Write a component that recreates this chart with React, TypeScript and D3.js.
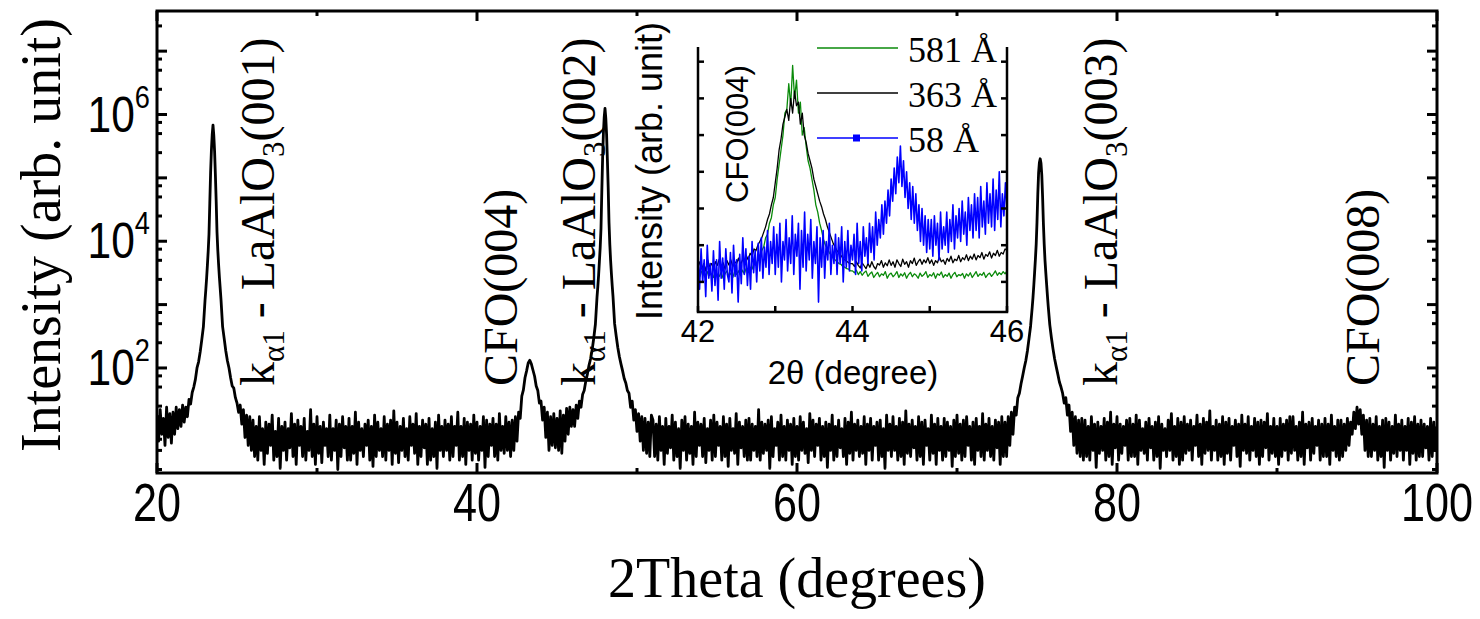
import React from 'react';
import * as d3 from 'd3';

const W = 1480;
const H = 619;

// ---- main XRD scan: 2θ from 20° to 100° in 0.1° steps (counts) ----
const scanStart = 20;
const scanStep = 0.1;
const scanCounts: number[] = [
  18,7,22,9,16,6,24,8,19,6.5, // 20
  20,9,24,11,22,12,26,14,24,17, // 21
  32,27,41,50,66,100,125,180,280,450, // 22
  1150,2600,7000,40000,270000,680000,260000,42000,7200,2700, // 23
  1200,450,290,185,130,100,70,52,48,34, // 24
  28,20,26,13,22,8,18,6,17,5, // 25
  15,4,12,3.5,17,5,11,3,14,4.5, // 26
  13,6,18,3.5,10,4,16,2.6,12,5, // 27
  14,3.5,11,5.5,19,4,13,3,15,6, // 28
  12,4,16,3.5,10,5,22,4,13,3, // 29
  17,4.5,12,3.2,14,6,11,4,18,3.5, // 30
  11,5,15,2.5,13,4,17,5.5,12,3.5, // 31
  16,3.5,12,4.5,20,3,14,5,11,4, // 32
  13,6,15,3.5,12,2.8,18,4,14,5, // 33
  11,4,17,3.5,13,5,15,3,21,4.5, // 34
  14,3.2,12,5,16,4,11,3.5,17,6, // 35
  13,4.5,19,3,12,4,15,5.5,13,3, // 36
  16,3.5,11,4,14,2.6,18,5,12,4, // 37
  15,5,13,3.5,17,4,12,6,20,3.5, // 38
  12,4,16,3,14,5,13,3.5,18,4.5, // 39
  14,3.5,12,5,17,2.7,15,4,13,6, // 40
  16,4,13,3.5,19,5,12,4.5,17,5, // 41
  14,4,15,5,17,7,20,16,36,45, // 42
  70,90,120,132,115,92,74,52,44,28, // 43
  30,15,24,8,20,5,17,6,19,5.5, // 44
  16,5,21,4.5,18,7,23,9,24,12, // 45
  22,12,26,16,30,24,38,44,62,80, // 46
  110,140,195,300,490,1300,2900,8000,60000,500000, // 47
  1250000,480000,70000,9000,3100,1350,500,320,210,150, // 48
  115,90,68,58,44,40,24,30,15,22, // 49
  10,19,7,17,5,16,4.5,14,4,18, // 50
  15,4,13,3.5,17,5,12,3,16,4.5, // 51
  12,5.5,18,3.5,14,4,11,2.6,15,5, // 52
  17,3.5,13,4.5,12,3,20,4,14,6, // 53
  13,4,16,3.2,11,5,15,3.5,18,4, // 54
  14,6,12,3.5,17,4,13,2.8,16,5, // 55
  11,4.5,19,3,14,5.5,12,4,15,3.5, // 56
  16,3.5,13,5,12,4,22,3.5,14,4.5, // 57
  13,5,15,2.6,17,4,11,6,14,3.5, // 58
  18,4,12,3.5,15,5,13,3,16,4, // 59
  12,3.5,17,5,14,4.5,11,3.2,19,5, // 60
  15,4,13,6,16,3.5,12,4,14,2.7, // 61
  13,5,18,3.5,12,4,15,5.5,11,4, // 62
  16,3,14,4.5,20,3.5,13,5,15,4, // 63
  12,4.5,17,3,13,5,16,3.5,12,6, // 64
  14,3.5,15,4,11,2.6,18,5,13,4, // 65
  17,5,12,3.5,16,4,14,3,21,4.5, // 66
  13,4,15,5.5,12,3.5,17,4,14,3, // 67
  15,6,11,3.5,18,4.5,13,3,16,5, // 68
  12,3.5,16,4,14,5,12,2.8,15,4, // 69
  18,4.5,13,3.5,15,4,17,6,12,3.5, // 70
  14,3,16,5,12,4,19,3.5,13,5, // 71
  16,4,12,3.5,15,5.5,14,3,17,4, // 72
  14,4,17,6,20,9,24,18,34,40, // 73
  56,74,100,130,185,290,460,900,2000,5200, // 74
  20000,120000,200000,110000,19000,5000,2100,950,480,300, // 75
  200,140,105,80,60,50,40,28,34,18, // 76
  26,10,20,6,17,4.5,15,4,16,3.5, // 77
  15,4,12,3.5,17,5,13,2.7,14,4.5, // 78
  12,5,16,3.5,14,4,20,3,13,5.5, // 79
  17,3.5,13,4.5,12,6,15,3.5,16,4, // 80
  13,4,18,3,15,5,11,4.5,14,3.5, // 81
  16,5.5,12,3.5,14,4,17,2.6,13,5, // 82
  11,4,15,5,19,3.5,12,4,16,3, // 83
  14,3.5,17,4.5,13,5,15,3.5,12,6, // 84
  18,4,13,3,16,4.5,14,5,21,3.5, // 85
  12,5,15,3.5,13,4,17,3,14,4.5, // 86
  16,3.5,12,6,15,4,13,2.8,18,5, // 87
  13,4.5,17,3.5,12,5,16,4,14,3, // 88
  15,4,14,5.5,19,3.5,12,4.5,16,4, // 89
  12,3,16,4,13,5,15,3.5,17,4.5, // 90
  17,5,12,3.5,14,4,20,3,13,5.5, // 91
  14,3.5,16,4.5,12,6,15,3.5,13,4, // 92
  16,4,13,3,18,5,12,4,15,3.5, // 93
  15,4,13,5,16,6,14,9,20,11, // 94
  24,13,22,9,18,5,15,4,16,4, // 95
  13,5,17,3.5,12,4,15,2.7,16,5, // 96
  14,3.5,12,4.5,18,4,13,5,15,3.5, // 97
  12,5,16,3,14,4.5,17,3.5,13,4, // 98
  15,4,13,5.5,12,3.5,16,4,14,5, // 99
  12, // 100
];

// finer readings around the sharp substrate peaks [2θ, counts]
const lao001Fine: [number, number][] = [
  [23.0,1150],[23.05,1700],[23.1,2600],[23.15,4200],[23.2,7000],[23.25,13000],[23.3,40000],
  [23.35,120000],[23.4,270000],[23.45,480000],[23.5,680000],[23.55,470000],[23.6,260000],
  [23.65,110000],[23.7,42000],[23.75,14000],[23.8,7200],[23.85,4300],[23.9,2700],[23.95,1800],[24.0,1200],
];
const lao002Fine: [number, number][] = [
  [47.5,1300],[47.55,1900],[47.6,2900],[47.65,4800],[47.7,8000],[47.75,16000],[47.8,60000],
  [47.85,200000],[47.9,500000],[47.95,900000],[48.0,1250000],[48.05,880000],[48.1,480000],
  [48.15,190000],[48.2,70000],[48.25,20000],[48.3,9000],[48.35,5000],[48.4,3100],[48.45,2000],[48.5,1350],
];
const lao003Fine: [number, number][] = [
  [74.7,900],[74.75,1300],[74.8,2000],[74.85,3200],[74.9,5200],[74.95,9000],[75.0,20000],
  [75.05,55000],[75.1,120000],[75.15,175000],[75.2,200000],[75.25,170000],[75.3,110000],
  [75.35,50000],[75.4,19000],[75.45,9000],[75.5,5000],[75.55,3200],[75.6,2100],[75.65,1400],[75.7,950],
];

// ---- inset: CFO(004) region, 42° – 46° ----
const insetStart = 42;
const thickStep = 0.025;
const film581: number[] = [
  1.25,1.15,1.3,1.2,1.1,1.28,1.18,1.22,1.12,1.3,1.2,1.15,1.26,1.1,1.22,1.3,1.16,1.24,1.12,1.28,
  1.2,1.3,1.18,1.32,1.22,1.38,1.28,1.4,1.35,1.5,1.45,1.62,1.7,1.85,1.95,2.2,2.3,2.6,2.75,3.1,
  3.3,3.8,4.2,4.6,5.0,5.6,5.7,6.4,5.8,6.9,6.0,6.5,5.6,5.9,5.0,5.2,4.7,4.3,4.1,3.8,
  3.5,3.1,2.9,2.6,2.4,2.15,2.0,1.9,1.8,1.72,1.65,1.6,1.55,1.5,1.48,1.42,1.4,1.36,1.35,1.3,
  1.3,1.25,1.32,1.2,1.28,1.18,1.25,1.3,1.15,1.22,1.27,1.12,1.2,1.26,1.14,1.22,1.18,1.28,1.1,1.2,
  1.24,1.14,1.2,1.28,1.12,1.22,1.16,1.25,1.1,1.2,1.26,1.14,1.22,1.18,1.1,1.24,1.15,1.2,1.28,1.12,
  1.2,1.16,1.25,1.1,1.22,1.18,1.27,1.12,1.2,1.15,1.24,1.1,1.2,1.26,1.14,1.2,1.17,1.23,1.1,1.22,
  1.16,1.25,1.12,1.2,1.28,1.15,1.22,1.18,1.26,1.12,1.2,1.24,1.15,1.22,1.3,1.18,1.25,1.2,1.28,1.22,1.3,
];
const film363: number[] = [
  1.4,1.55,1.35,1.5,1.3,1.6,1.42,1.5,1.36,1.55,1.45,1.62,1.4,1.52,1.35,1.58,1.46,1.6,1.42,1.55,
  1.5,1.65,1.45,1.6,1.55,1.72,1.6,1.78,1.7,1.9,1.85,2.0,2.1,2.2,2.35,2.5,2.7,2.85,3.1,3.3,
  3.7,4.1,4.6,4.9,5.3,5.5,5.7,5.4,6.0,5.6,6.2,5.8,5.9,5.3,5.6,5.0,4.8,4.5,4.3,4.1,
  3.8,3.6,3.4,3.2,3.05,2.85,2.7,2.5,2.35,2.2,2.05,1.95,1.85,1.78,1.72,1.65,1.6,1.56,1.52,1.5,
  1.5,1.42,1.55,1.45,1.38,1.52,1.44,1.36,1.5,1.4,1.55,1.42,1.35,1.5,1.46,1.58,1.4,1.52,1.44,1.6,
  1.45,1.55,1.4,1.6,1.5,1.42,1.62,1.48,1.55,1.4,1.58,1.5,1.65,1.45,1.55,1.62,1.48,1.6,1.52,1.66,
  1.5,1.6,1.45,1.58,1.52,1.68,1.55,1.6,1.48,1.64,1.56,1.7,1.52,1.62,1.58,1.72,1.55,1.66,1.6,1.74,
  1.58,1.7,1.62,1.76,1.6,1.72,1.66,1.8,1.62,1.75,1.7,1.82,1.65,1.78,1.72,1.86,1.7,1.8,1.76,1.9,1.85,
];
const thinStep = 0.02;
const film58: number[] = [
  1.7,0.8,1.9,1.0,1.6,0.6,2.0,1.1,1.5,0.75,
  1.85,0.9,1.6,0.5,2.1,1.1,1.65,0.8,1.9,1.2,
  1.0,1.8,0.7,2.0,1.15,1.6,0.45,1.75,0.95,2.2,
  1.2,1.9,0.9,1.7,0.8,2.1,1.25,1.85,1.0,2.05,
  1.3,2.2,1.1,1.95,1.4,2.4,1.2,2.1,1.5,2.5,
  1.2,2.3,1.4,2.6,1.0,2.1,1.6,2.7,1.3,2.2,
  1.5,2.8,1.2,2.3,1.7,2.6,0.8,2.4,1.4,2.9,
  1.3,2.3,1.6,2.7,1.1,2.1,1.5,2.5,0.45,2.2,
  1.4,2.4,1.1,2.1,1.6,2.6,1.2,2.0,1.5,2.3,
  1.2,2.2,1.5,2.5,1.0,2.1,1.4,2.4,1.3,2.0,
  1.6,2.3,1.2,2.6,1.5,2.1,1.3,2.5,1.7,2.2,
  1.5,2.6,1.8,2.5,1.6,2.9,2.0,2.7,2.2,3.1,
  2.3,3.2,2.6,3.5,2.8,3.8,3.2,4.1,3.4,4.4,
  3.7,4.7,3.6,4.3,3.3,4.0,3.0,3.7,2.7,3.6,
  2.6,3.4,2.4,3.1,2.1,3.0,2.0,2.8,1.8,2.7,
  1.9,2.7,1.7,2.8,2.0,2.6,1.6,2.9,1.9,2.5,
  2.0,2.9,1.8,2.7,2.1,3.1,1.9,2.8,2.2,3.0,
  2.1,3.2,2.3,2.9,2.0,3.3,2.4,3.1,2.2,3.4,
  2.4,3.3,2.2,3.6,2.5,3.2,2.3,3.7,2.6,3.4,
  2.5,3.8,2.4,3.5,2.7,4.0,2.5,3.4,2.8,3.7,
  3.0,
];

const legendNames = ['581 Å', '363 Å', '58 Å'];
const legendColors = ['#0a8a0a', '#000000', '#0000ff'];

// ---- axes ----
const xMajorTicks = [20, 40, 60, 80, 100];
const xMinorTicks = [30, 50, 70, 90];
const yMajorExps = [1, 2, 3, 4, 5, 6, 7];
const yLabelExps = [2, 4, 6];
const yMinorMantissas = [2.5, 5, 7.5];
const insetXTicks = [42, 44, 46];
const insetXMinor = [43, 45];
const insetYTicks = [1, 2, 3, 4, 5, 6, 7];

const peakLabels = [
  { x: 274, kind: 'lao', hkl: '(001)' },
  { x: 517, kind: 'cfo', hkl: 'CFO(004)' },
  { x: 595, kind: 'lao', hkl: '(002)' },
  { x: 1117, kind: 'lao', hkl: '(003)' },
  { x: 1379, kind: 'cfo', hkl: 'CFO(008)' },
];

const SERIF = '"Liberation Serif", "Times New Roman", serif';
const SANS = '"Liberation Sans", Arial, sans-serif';

export default function App() {
  const L = 157, R = 1437, T = 11, B = 473;
  const x = d3.scaleLinear().domain([20, 100]).range([L, R]);
  const y = d3.scaleLog().domain([2.2, 4.3e7]).range([B, T]);

  const windows = [lao001Fine, lao002Fine, lao003Fine].map((f) => [f[0][0], f[f.length - 1][0]]);
  const coarse: [number, number][] = scanCounts.map((c, i) => [scanStart + i * scanStep, c]);
  const pts = coarse
    .filter(([t]) => !windows.some(([a, b]) => t >= a - 1e-6 && t <= b + 1e-6))
    .concat(lao001Fine, lao002Fine, lao003Fine)
    .sort((a, b) => a[0] - b[0]);
  const mainLine = d3.line<[number, number]>().x((d) => x(d[0])).y((d) => y(d[1]))(pts) || '';

  // inset
  const iL = 698, iR = 1007, iT = 47, iB = 312;
  const ix = d3.scaleLinear().domain([42, 46]).range([iL, iR]);
  const iy = d3.scaleLinear().domain([0.18, 7.4]).range([iB, iT]);
  const mk = (arr: number[], step: number) =>
    d3.line<number>().x((_, i) => ix(insetStart + i * step)).y((v) => iy(v))(arr) || '';
  const insetSeries = [
    { d: mk(film581, thickStep), c: legendColors[0], w: 1.3 },
    { d: mk(film363, thickStep), c: legendColors[1], w: 1.3 },
    { d: mk(film58, thinStep), c: legendColors[2], w: 1.6 },
  ];

  const yMinor: number[] = [];
  for (let e = 0; e <= 7; e++) for (const m of yMinorMantissas) {
    const v = m * Math.pow(10, e);
    if (v >= 2.2 && v <= 4.3e7) yMinor.push(v);
  }

  const majLen = 10, minLen = 5;

  return (
    <svg width={W} height={H} style={{ position: 'absolute', left: 0, top: 0, background: '#fff' }}>
      <rect x={0} y={0} width={W} height={H} fill="#fff" />
      <defs>
        <clipPath id="plotclip"><rect x={L} y={T} width={R - L} height={B - T} /></clipPath>
        <clipPath id="insetclip"><rect x={iL} y={iT - 30} width={iR - iL} height={iB - iT + 30} /></clipPath>
      </defs>

      {/* main data */}
      <path d={mainLine} fill="none" stroke="#000" strokeWidth={2.8} strokeLinejoin="round" clipPath="url(#plotclip)" />

      {/* frame */}
      <rect x={L} y={T} width={R - L} height={B - T} fill="none" stroke="#000" strokeWidth={3} />

      {/* x ticks */}
      {xMajorTicks.map((t) => (
        <g key={'xm' + t}>
          <line x1={x(t)} x2={x(t)} y1={B} y2={B - majLen} stroke="#000" strokeWidth={3} />
          <line x1={x(t)} x2={x(t)} y1={T} y2={T + majLen} stroke="#000" strokeWidth={3} />
          <g transform={`translate(${x(t)},521)`}>
            <text transform="scale(0.8,1)" textAnchor="middle" fontFamily={SANS} fontSize={54}>{t}</text>
          </g>
        </g>
      ))}
      {xMinorTicks.map((t) => (
        <g key={'xn' + t}>
          <line x1={x(t)} x2={x(t)} y1={B} y2={B - minLen} stroke="#000" strokeWidth={3} />
          <line x1={x(t)} x2={x(t)} y1={T} y2={T + minLen} stroke="#000" strokeWidth={3} />
        </g>
      ))}

      {/* y ticks */}
      {yMajorExps.map((e) => {
        const yy = y(Math.pow(10, e));
        return (
          <g key={'ym' + e}>
            <line x1={L} x2={L + majLen} y1={yy} y2={yy} stroke="#000" strokeWidth={3} />
            <line x1={R} x2={R - majLen} y1={yy} y2={yy} stroke="#000" strokeWidth={3} />
          </g>
        );
      })}
      {yMinor.map((v, i) => {
        const yy = y(v);
        return (
          <g key={'yn' + i}>
            <line x1={L} x2={L + minLen} y1={yy} y2={yy} stroke="#000" strokeWidth={3} />
            <line x1={R} x2={R - minLen} y1={yy} y2={yy} stroke="#000" strokeWidth={3} />
          </g>
        );
      })}
      {yLabelExps.map((e) => (
        <g key={'yl' + e} transform={`translate(150,${y(Math.pow(10, e)) + 17})`}>
          <text transform="scale(0.85,1)" textAnchor="end" fontFamily={SANS} fontSize={50}>
            10<tspan fontSize={32} dy={-24}>{e}</tspan>
          </text>
        </g>
      ))}

      {/* axis titles */}
      <text transform={`translate(60,235) rotate(-90)`} textAnchor="middle" fontFamily={SERIF} fontSize={56}>Intensity (arb. unit)</text>
      <text x={797} y={597} textAnchor="middle" fontFamily={SERIF} fontSize={56}>2Theta (degrees)</text>

      {/* peak labels */}
      {peakLabels.map((p, i) => (
        <text key={'pl' + i} transform={`translate(${p.x},386) rotate(-90)`} fontFamily={SERIF} fontSize={48}>
          {p.kind === 'lao' ? (
            <>
              k<tspan fontSize={31} dy={10}>α1</tspan>
              <tspan dy={-10}>{' - LaAlO'}</tspan>
              <tspan fontSize={31} dy={10}>3</tspan>
              <tspan dy={-10}>{p.hkl}</tspan>
            </>
          ) : (
            p.hkl
          )}
        </text>
      ))}

      {/* ---------- inset ---------- */}
      <g clipPath="url(#insetclip)">
        {insetSeries.map((s, i) => (
          <path key={'is' + i} d={s.d} fill="none" stroke={s.c} strokeWidth={s.w} strokeLinejoin="round" />
        ))}
      </g>
      <path d={`M${iL},${iT}V${iB}H${iR}V${iT}`} fill="none" stroke="#000" strokeWidth={2.5} />
      {insetYTicks.map((t) => (
        <g key={'iy' + t}>
          <line x1={iL} x2={iL + 6} y1={iy(t)} y2={iy(t)} stroke="#000" strokeWidth={2.5} />
          <line x1={iR} x2={iR - 6} y1={iy(t)} y2={iy(t)} stroke="#000" strokeWidth={2.5} />
        </g>
      ))}
      {insetXTicks.concat(insetXMinor).map((t) => (
        <line key={'ix' + t} x1={ix(t)} x2={ix(t)} y1={iB} y2={iB - 6} stroke="#000" strokeWidth={2.5} />
      ))}
      {insetXTicks.map((t) => (
        <text key={'ixl' + t} x={ix(t)} y={342} textAnchor="middle" fontFamily={SANS} fontSize={31}>{t}</text>
      ))}
      <text x={853} y={384} textAnchor="middle" fontFamily={SANS} fontSize={33}>2θ (degree)</text>
      <text transform={`translate(662,171) rotate(-90)`} textAnchor="middle" fontFamily={SANS} fontSize={36}>Intensity (arb. unit)</text>
      <text transform={`translate(748,134) rotate(-90)`} textAnchor="middle" fontFamily={SANS} fontSize={31}>CFO(004)</text>

      {/* legend */}
      {legendNames.map((n, i) => {
        const ly = 48 + i * 45;
        return (
          <g key={'lg' + i}>
            <line x1={817} x2={898} y1={ly} y2={ly} stroke={legendColors[i]} strokeWidth={1.3} />
            {i === 2 && <rect x={853} y={ly - 3.5} width={7} height={7} fill={legendColors[i]} />}
            <text x={908} y={ly + 14} fontFamily={SERIF} fontSize={36}>{n}</text>
          </g>
        );
      })}
    </svg>
  );
}
